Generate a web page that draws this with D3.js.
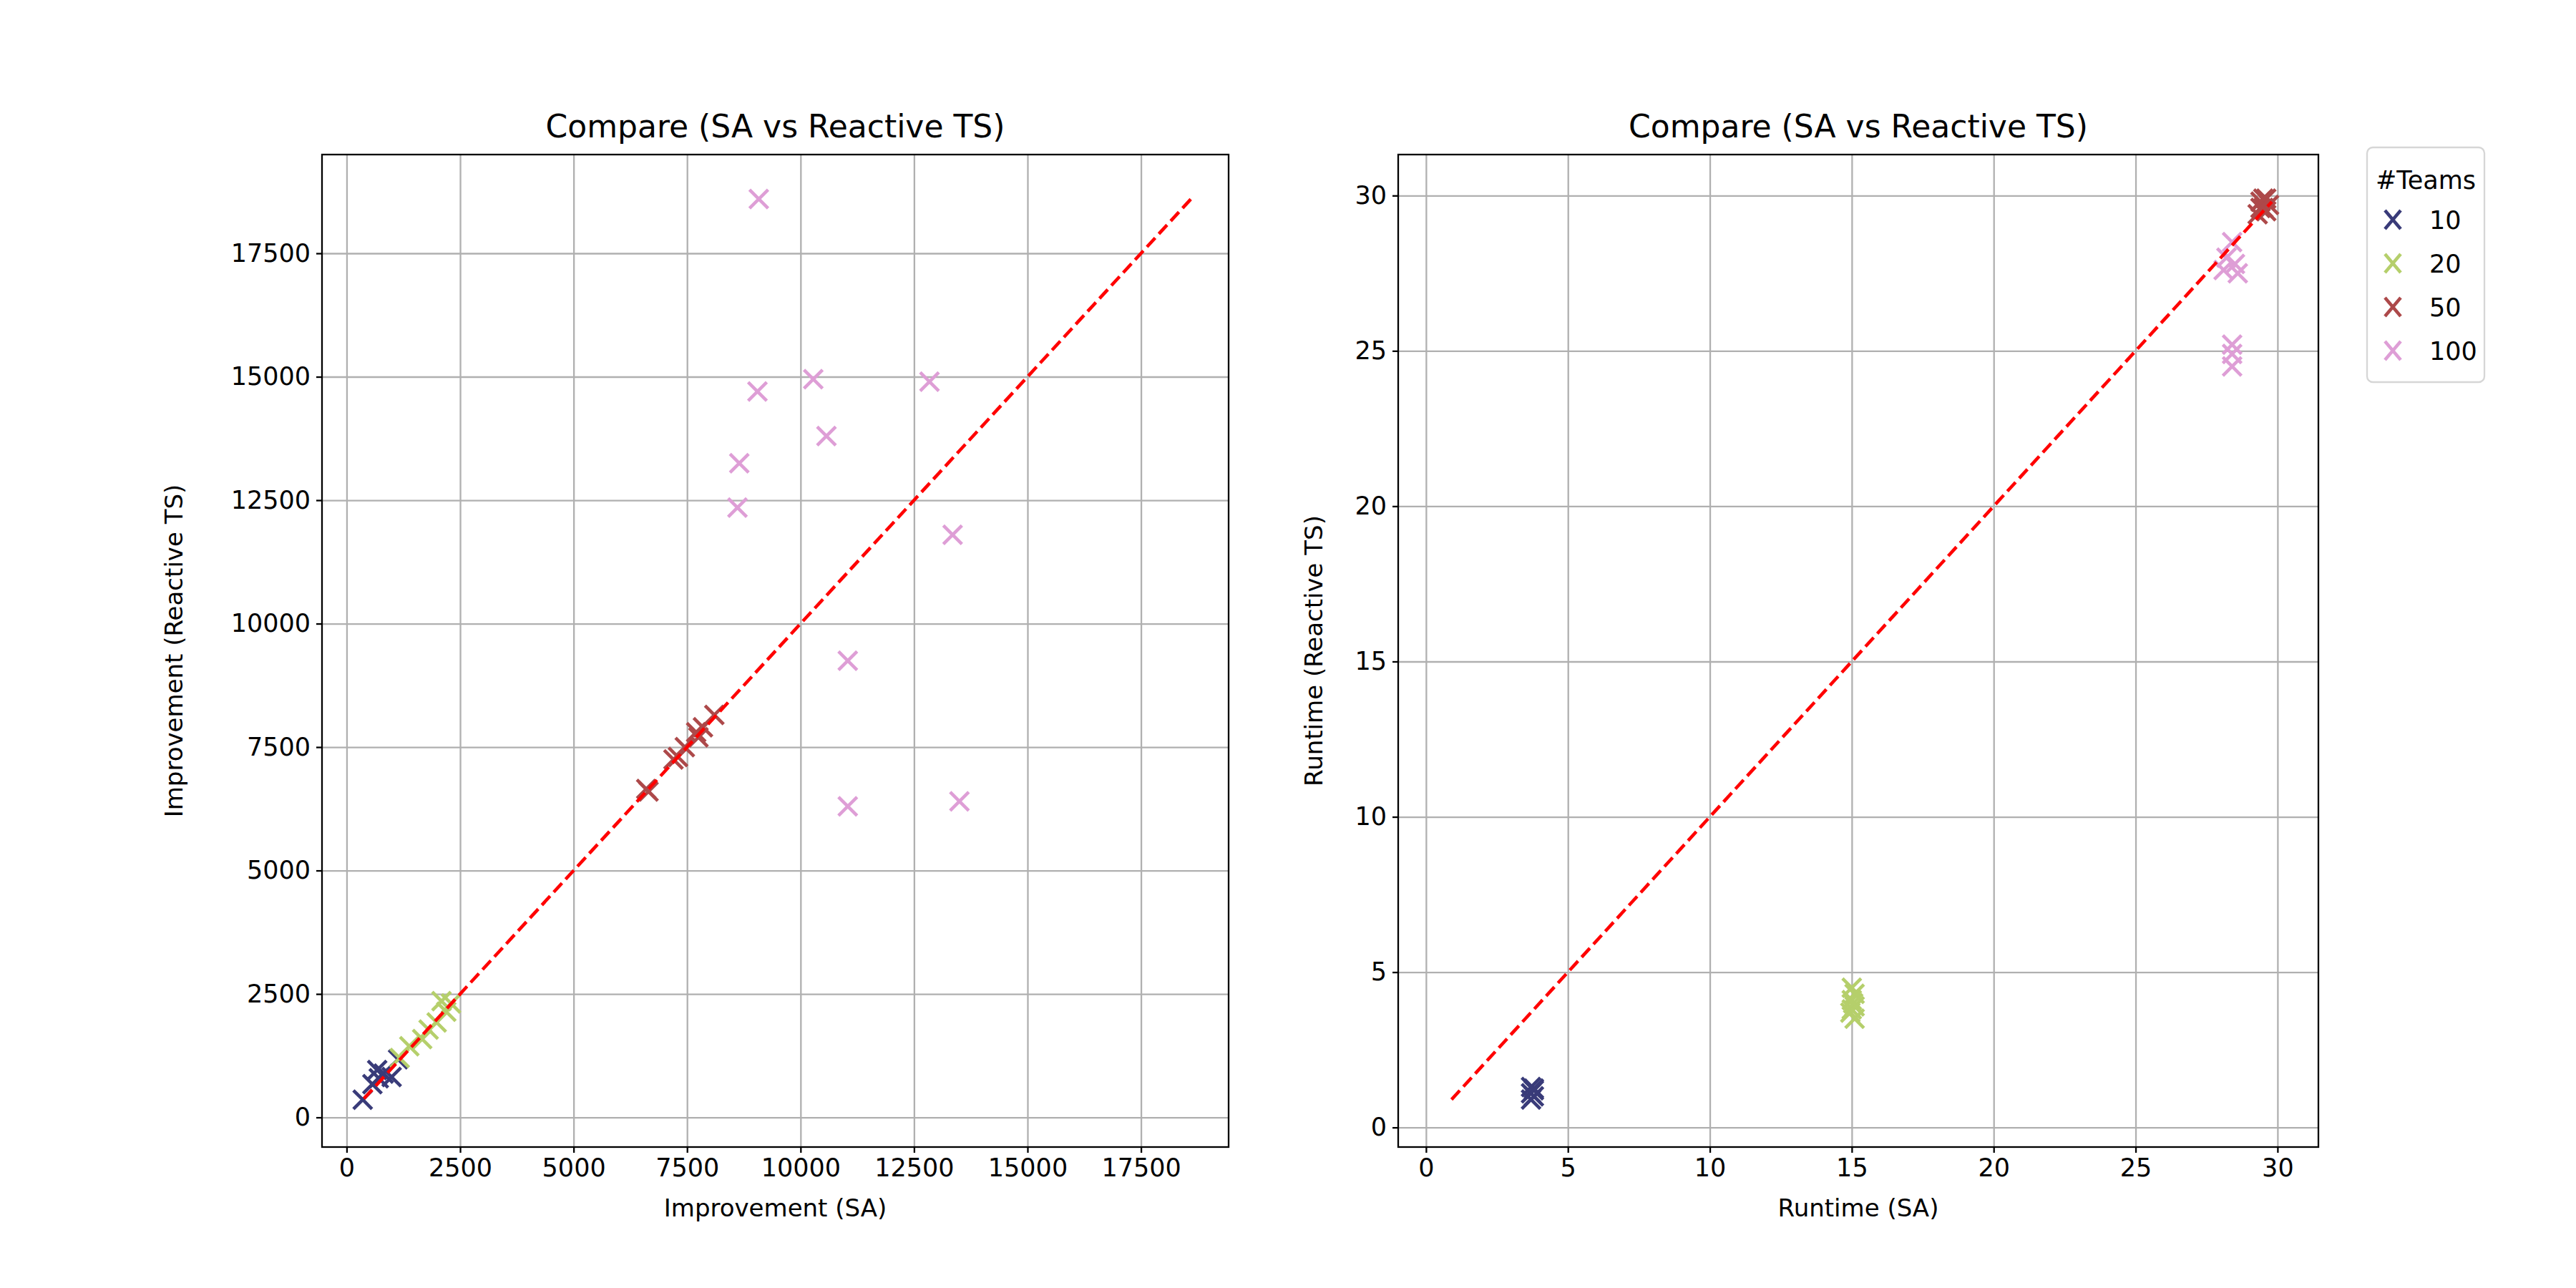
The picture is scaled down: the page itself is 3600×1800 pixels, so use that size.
<!DOCTYPE html>
<html><head><meta charset="utf-8">
<script src="https://cdn.jsdelivr.net/npm/d3@7"></script>
<style>body{margin:0;background:#fff}text{font-family:"DejaVu Sans",sans-serif}</style>
</head><body><svg id="c" width="3600" height="1800"></svg>
<script>
const teams = ["10","20","50","100"];
const colors = ["#393b79","#b5cf6b","#ad494a","#de9ed6"];
// Improvement (SA, Reactive TS) per team count
const imp10 = [[354,360],[567,673],[708,793],[815,889],[991,817],[1133,1178],[673,961]];
const imp20 = [[1168,1202],[1381,1442],[1664,1587],[1806,1779],[1983,1923],[2195,2139],[2300,2308],[2090,2356]];
const imp50 = [[6600,6650],[7200,7250],[7300,7300],[7450,7500],[7700,7800],[7850,7900],[8100,8150],[6650,6600],[7750,7700]];
const imp100 = [[9080,18600],[9050,14700],[10280,14950],[12840,14900],[8650,13250],[10570,13800],[8610,12350],[13350,11800],[11040,9250],[11040,6300],[13500,6400]];
// Runtime (SA, Reactive TS)
const rt10 = [[3.7,1.3],[3.8,1.25],[3.7,1.1],[3.8,1.0],[3.7,0.9],[3.8,1.2]];
const rt20 = [[15.0,4.5],[15.1,4.3],[15.0,4.1],[15.1,3.9],[14.95,3.7],[15.1,3.5],[15.0,3.8],[15.05,4.0]];
const rt50 = [[29.3,29.4],[29.5,29.6],[29.6,29.9],[29.4,29.8],[29.7,29.7],[29.5,29.9],[29.6,29.5],[29.4,29.6]];
const rt100 = [[28.4,28.5],[28.2,28.0],[28.5,27.8],[28.1,27.6],[28.6,27.5],[28.4,25.2],[28.4,24.9],[28.4,24.5]];
const impLine = [380,18600];
const rtLine = [0.9,29.8];
const impTicks = [0,2500,5000,7500,10000,12500,15000,17500];
const rtTicks = [0,5,10,15,20,25,30];

const svg = d3.select("#c");
const X = "M-13,-13L13,13M-13,13L13,-13";
function panel(o){
  const g = svg.append("g");
  const x = d3.scaleLinear().domain(o.xd).range([o.l,o.r]);
  const y = d3.scaleLinear().domain(o.yd).range([o.b,o.t]);
  g.append("g").attr("transform",`translate(0,${o.b})`).call(d3.axisBottom(x).tickValues(o.ticks).tickSize(-(o.b-o.t)).tickFormat(""))
    .call(a=>{a.selectAll("line").attr("stroke","#b0b0b0").attr("stroke-width",2.3);a.select(".domain").remove();});
  g.append("g").attr("transform",`translate(${o.l},0)`).call(d3.axisLeft(y).tickValues(o.ticks).tickSize(-(o.r-o.l)).tickFormat(""))
    .call(a=>{a.selectAll("line").attr("stroke","#b0b0b0").attr("stroke-width",2.3);a.select(".domain").remove();});
  const ax = g.append("g").attr("transform",`translate(0,${o.b})`).call(d3.axisBottom(x).tickValues(o.ticks).tickSize(8).tickPadding(8).tickFormat(d3.format("d")));
  const ay = g.append("g").attr("transform",`translate(${o.l},0)`).call(d3.axisLeft(y).tickValues(o.ticks).tickSize(8).tickPadding(8).tickFormat(d3.format("d")));
  [ax,ay].forEach(a=>{a.select(".domain").remove();a.selectAll("line").attr("stroke","#000").attr("stroke-width",2.3);a.selectAll("text").attr("font-size",35).attr("font-family","DejaVu Sans").attr("fill","#000");});
  o.series.forEach((s,i)=>{
    g.selectAll(null).data(s).enter().append("path")
      .attr("transform",d=>`translate(${x(d[0])},${y(d[1])})`)
      .attr("d",X).attr("stroke",colors[i]).attr("stroke-width",4.6).attr("fill","none");
  });
  g.append("line").attr("x1",x(o.line[0])).attr("y1",y(o.line[0])).attr("x2",x(o.line[1])).attr("y2",y(o.line[1]))
    .attr("stroke","red").attr("stroke-width",4.6).attr("stroke-dasharray","17,7.5");
  g.append("rect").attr("x",o.l).attr("y",o.t).attr("width",o.r-o.l).attr("height",o.b-o.t).attr("fill","none").attr("stroke","#000").attr("stroke-width",2.3);
  g.append("text").attr("x",(o.l+o.r)/2).attr("y",o.t-24).attr("text-anchor","middle").attr("font-size",44).text(o.title);
  g.append("text").attr("x",(o.l+o.r)/2).attr("y",o.b+97).attr("text-anchor","middle").attr("font-size",34).text(o.xl);
  g.append("text").attr("transform",`translate(${o.l-o.ylOff},${(o.t+o.b)/2}) rotate(-90)`).attr("text-anchor","middle").attr("font-size",34).text(o.yl);
}
panel({l:450,r:1717,t:216,b:1603,xd:[-543,19430],yd:[-600,19500],ticks:impTicks,series:[imp10,imp20,imp50,imp100],line:impLine,
  title:"Compare (SA vs Reactive TS)",xl:"Improvement (SA)",yl:"Improvement (Reactive TS)",ylOff:195});
panel({l:1954,r:3240,t:216,b:1603,xd:[-0.98,31.44],yd:[-0.63,31.32],ticks:rtTicks,series:[rt10,rt20,rt50,rt100],line:rtLine,
  title:"Compare (SA vs Reactive TS)",xl:"Runtime (SA)",yl:"Runtime (Reactive TS)",ylOff:106});
// legend
const lg = svg.append("g");
lg.append("rect").attr("x",3308).attr("y",206).attr("width",164).attr("height",328).attr("rx",8).attr("fill","#fff").attr("stroke","#d6d6d6").attr("stroke-width",2.3);
lg.append("text").attr("x",3390).attr("y",264).attr("text-anchor","middle").attr("font-size",35).text("#Teams");
teams.forEach((t,i)=>{
  const cy = 307+i*61;
  lg.append("path").attr("transform",`translate(3344,${cy})`).attr("d","M-11,-13L11,13M-11,13L11,-13").attr("stroke",colors[i]).attr("stroke-width",4.6);
  lg.append("text").attr("x",3395).attr("y",cy+13).attr("font-size",35).text(t);
});
</script></body></html>
